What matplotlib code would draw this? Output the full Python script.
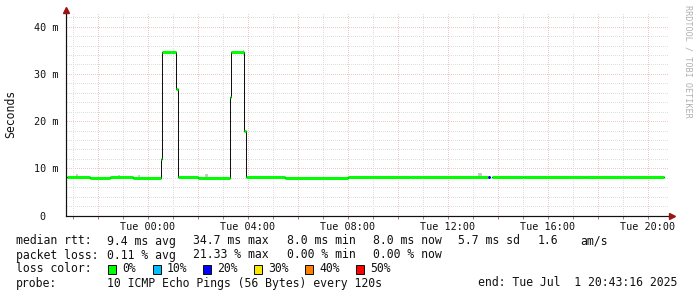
import numpy as np
import matplotlib
matplotlib.use("Agg")
import matplotlib.pyplot as plt
from matplotlib.patches import Rectangle

# time in hours relative to Tue 00:00, values in ms
# each median segment runs from med_t[i] to med_t[i+1]
med_t = [-3.24, -2.3, -1.5, -0.6, 0.546, 0.586, 1.146, 1.2, 2.0, 3.28, 3.344,
         3.864, 3.92, 5.5, 8.0, 10.5, 13.61, 13.69, 13.78, 15.0, 17.5, 19.2, 20.65]
med_v = [8.1, 8.0, 8.1, 8.05, 12.0, 34.7, 26.9, 8.1, 8.05, 25.0, 34.7,
         17.9, 8.1, 8.05, 8.1, 8.15, 8.1, np.nan, 8.1, 8.15, 8.1, 8.15]
med_loss = [0, 0, 0, 0, 0, 0, 0, 0, 0, 0, 0,
            0, 0, 0, 0, 0, 20, 0, 0, 0, 0, 0]

# a few visible smoke specks (start h, end h, top ms)
smoke_t0 = [-2.85, -1.2, -0.4, 2.3, 3.8, 13.2]
smoke_t1 = [-2.77, -1.12, -0.32, 2.4, 3.86, 13.37]
smoke_top = [8.7, 8.6, 8.6, 8.8, 35.0, 9.1]

loss_levels = [0, 10, 20, 30, 40, 50]
loss_colors = ['#00ff00', '#00bfff', '#0000ff', '#ffe600', '#ff8000', '#ff0000']

xticks = [0, 4, 8, 12, 16, 20]
xtick_labels = ['Tue 00:00', 'Tue 04:00', 'Tue 08:00', 'Tue 12:00', 'Tue 16:00', 'Tue 20:00']
yticks = [0, 10, 20, 30, 40]
ytick_labels = ['0  ', '10 m', '20 m', '30 m', '40 m']

rows = [
    [(16, 'median rtt:'), (107, '9.4 ms avg'), (193, '34.7 ms max'), (287, '8.0 ms min'),
     (373, '8.0 ms now'), (458, '5.7 ms sd'), (538, '1.6'), (580, 'am/s')],
    [(16, 'packet loss:'), (107, '0.11 % avg'), (193, '21.33 % max'), (287, '0.00 % min'),
     (373, '0.00 % now')],
    [(16, 'loss color:')],
    [(16, 'probe:'), (107, '10 ICMP Echo Pings (56 Bytes) every 120s'),
     (478, 'end: Tue Jul  1 20:43:16 2025')],
]
row_y = [241, 255, 269, 283]
box_x = [108, 153, 203, 254, 305, 356]

MONO = 'DejaVu Sans Mono'
W, H = 697, 297
XMIN, XMAX = -3.248, 20.852
YMIN, YMAX = 0, 42.9

fig = plt.figure(figsize=(W / 100, H / 100), dpi=100)
fig.patch.set_facecolor('white')
ax = fig.add_axes([66.5 / W, 1 - 215.5 / H, (669 - 66.5) / W, (215.5 - 13) / H])
ax.set_xlim(XMIN, XMAX)
ax.set_ylim(YMIN, YMAX)
for s in ax.spines.values():
    s.set_visible(False)

px = 0.72  # one pixel in points

# grid
for y in np.arange(2, 43, 2):
    col = '#f0c8c8' if y % 10 == 0 else '#dedede'
    ax.axhline(y, color=col, lw=px, ls=(0, (1, 2)), antialiased=False, zorder=1)
for h in range(-3, 21):
    col = '#f0c8c8' if h % 2 == 0 else '#dedede'
    ax.axvline(h, color=col, lw=px, ls=(0, (1, 2)), antialiased=False, zorder=1)

# smoke
for a, b, top in zip(smoke_t0, smoke_t1, smoke_top):
    ax.fill_between([a, b], top - 0.9, top, color='#c8c8c8', lw=0, zorder=2)

# median: black step line, coloured loss segments on top
edges = np.array(med_t)
vals = np.array(med_v)
ax.step(edges, np.append(vals, vals[-1]), where='post', color='#111111', lw=1.0 * px, zorder=3)
seg_colors = [loss_colors[loss_levels.index(l)] for l in med_loss]
ax.hlines(vals, edges[:-1], edges[1:], colors=seg_colors, lw=3 * px, zorder=4)

# axes lines with arrows
ax.plot([XMIN, XMAX + 0.1], [0, 0], color='#111111', lw=1.2 * px, clip_on=False, zorder=5)
ax.plot([XMIN, XMIN], [0, YMAX + 0.6], color='#111111', lw=1.2 * px, clip_on=False, zorder=5)
ax.plot([XMAX + 0.12], [0], marker='>', ms=4, color='#9b1414', clip_on=False, zorder=6)
ax.plot([XMIN], [YMAX + 0.6], marker='^', ms=4, color='#9b1414', clip_on=False, zorder=6)

ax.set_xticks(xticks, xtick_labels)
ax.set_xticks(range(-3, 21), minor=True)
ax.set_yticks(yticks, ytick_labels)
ax.tick_params(axis='x', which='both', length=2, width=px, color='#888888', pad=3,
               labelsize=7.3, labelcolor='#111111')
ax.tick_params(axis='y', length=0, pad=6, labelsize=7.3, labelcolor='#111111')
for lbl in ax.get_xticklabels() + ax.get_yticklabels():
    lbl.set_family(MONO)

fig.text(10.5 / W, 1 - 114 / H, 'Seconds', rotation=90, ha='center', va='center',
         family=MONO, fontsize=8.3, color='#111111')
fig.text(688 / W, 1 - 5 / H, 'RRDTOOL / TOBI OETIKER', rotation=270, ha='center', va='top',
         family=MONO, fontsize=6.1, color='#b0b0b0')

# legend block
for y, items in zip(row_y, rows):
    for x, s in items:
        fig.text(x / W, 1 - y / H, s, ha='left', va='center', family=MONO,
                 fontsize=8.3, color='#111111')
for bx, lvl, col in zip(box_x, loss_levels, loss_colors):
    fig.patches.append(Rectangle((bx / W, 1 - 273.5 / H), 8 / W, 9 / H, transform=fig.transFigure,
                                 facecolor=col, edgecolor='#111111', lw=px))
    fig.text((bx + 14) / W, 1 - 269 / H, f'{lvl}%', ha='left', va='center', family=MONO,
             fontsize=8.3, color='#111111')

fig.savefig('out.png', dpi=100)
